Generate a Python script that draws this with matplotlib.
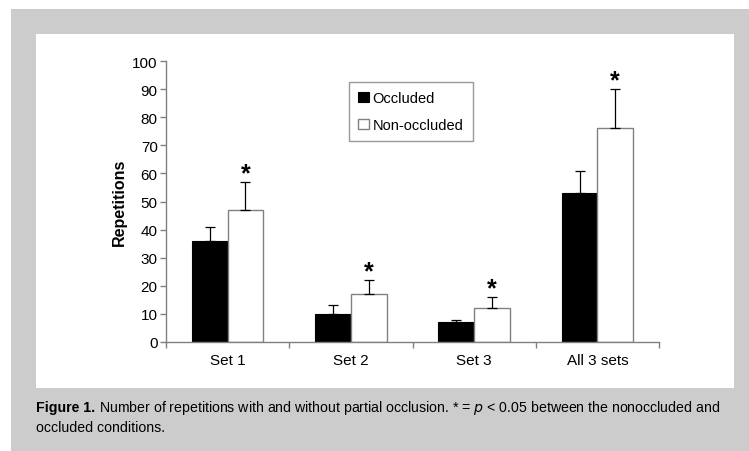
import numpy as np
import matplotlib.pyplot as plt
from matplotlib import font_manager
from matplotlib.patches import Rectangle

# repetitions per set, mean and upper error
categories = ["Set 1", "Set 2", "Set 3", "All 3 sets"]
occluded = [36, 10, 7, 53]
occluded_err = [5, 3, 1, 8]
non_occluded = [47, 17, 12, 76]
non_occluded_err = [10, 5, 4, 14]
significant = [True, True, True, True]

plt.rcParams['font.family'] = ['Liberation Sans', 'DejaVu Sans']
axis_grey = '#808080'
bg_grey = '#cccccc'

# narrow face for the caption if there is one
try:
    font_manager.findfont('Liberation Sans Narrow', fallback_to_default=False)
    cap_family, cap_size = 'Liberation Sans Narrow', 11.5
except ValueError:
    cap_family, cap_size = 'Liberation Sans', 10.2

fig = plt.figure(figsize=(7.49, 4.52), dpi=100)

# grey page, white panel
fig.patches.append(Rectangle((11 / 749, 0), 1 - 11 / 749, 1 - 10 / 452,
                             transform=fig.transFigure, facecolor=bg_grey,
                             edgecolor='none', zorder=-2))
fig.patches.append(Rectangle((36 / 749, 1 - 389 / 452), (734 - 36) / 749, (389 - 35) / 452,
                             transform=fig.transFigure, facecolor='white',
                             edgecolor='none', zorder=-1))

ax = fig.add_axes([166 / 749, 1 - 343 / 452, 493 / 749, 281 / 452])
ax.patch.set_alpha(0)

X = np.arange(len(categories))
w = 0.29
err_kw = dict(ecolor='black', elinewidth=0.9, capsize=3.5, capthick=0.9)
ax.bar(X - w / 2, occluded, width=w, color='black', edgecolor='black',
       linewidth=0.8, yerr=[np.zeros(len(X)), occluded_err], error_kw=err_kw,
       label="Occluded", zorder=2)
ax.bar(X + w / 2, non_occluded, width=w, color='white', edgecolor=axis_grey,
       linewidth=1.0, yerr=[np.zeros(len(X)), non_occluded_err], error_kw=err_kw,
       label="Non-occluded", zorder=2)

for i in range(len(X)):
    if significant[i]:
        ax.text(X[i] + w / 2, non_occluded[i] + non_occluded_err[i] - 1.2, "*",
                ha='center', va='bottom', fontsize=18, fontweight='bold')

ax.set_xlim(-0.5, len(X) - 0.5)
ax.set_ylim(0, 100)
ax.set_yticks(range(0, 101, 10))
ax.set_xticks(X)
ax.set_xticklabels(categories, fontsize=11)
ax.set_xticks(np.arange(-0.5, len(X)), minor=True)
ax.tick_params(axis='x', which='major', length=0, pad=8)
ax.tick_params(axis='x', which='minor', length=4, color=axis_grey, width=1)
ax.tick_params(axis='y', length=4, color=axis_grey, width=1, labelsize=11, pad=2)

for side in ['top', 'right']:
    ax.spines[side].set_visible(False)
for side in ['left', 'bottom']:
    ax.spines[side].set_color(axis_grey)
    ax.spines[side].set_linewidth(1)

ax.set_ylabel("Repetitions", fontsize=11.5, fontweight='bold', labelpad=4)

leg = ax.legend(loc='upper left', bbox_to_anchor=(349 / 749, 1 - 83 / 452),
                bbox_transform=fig.transFigure, fontsize=10.5, frameon=True,
                fancybox=False, handlelength=0.7, handleheight=0.7,
                handletextpad=0.25, borderpad=0.65, labelspacing=0.85,
                borderaxespad=0)
leg.get_frame().set_edgecolor(axis_grey)
leg.get_frame().set_linewidth(1)

# caption: bold lead-in, then the rest of the line right after it
lead = fig.text(36 / 749, 1 - 408 / 452, "Figure 1.", fontsize=cap_size,
                fontweight='bold', family=cap_family, va='center')
renderer = fig.canvas.get_renderer()
lead_end = lead.get_window_extent(renderer).x1
fig.text((lead_end + 4) / 749, 1 - 408 / 452,
         "Number of repetitions with and without partial occlusion. * = $p$ < 0.05 between the nonoccluded and",
         fontsize=cap_size, family=cap_family, va='center')
fig.text(36 / 749, 1 - 428 / 452, "occluded conditions.", fontsize=cap_size,
         family=cap_family, va='center')

fig.savefig("out.png", dpi=100)
